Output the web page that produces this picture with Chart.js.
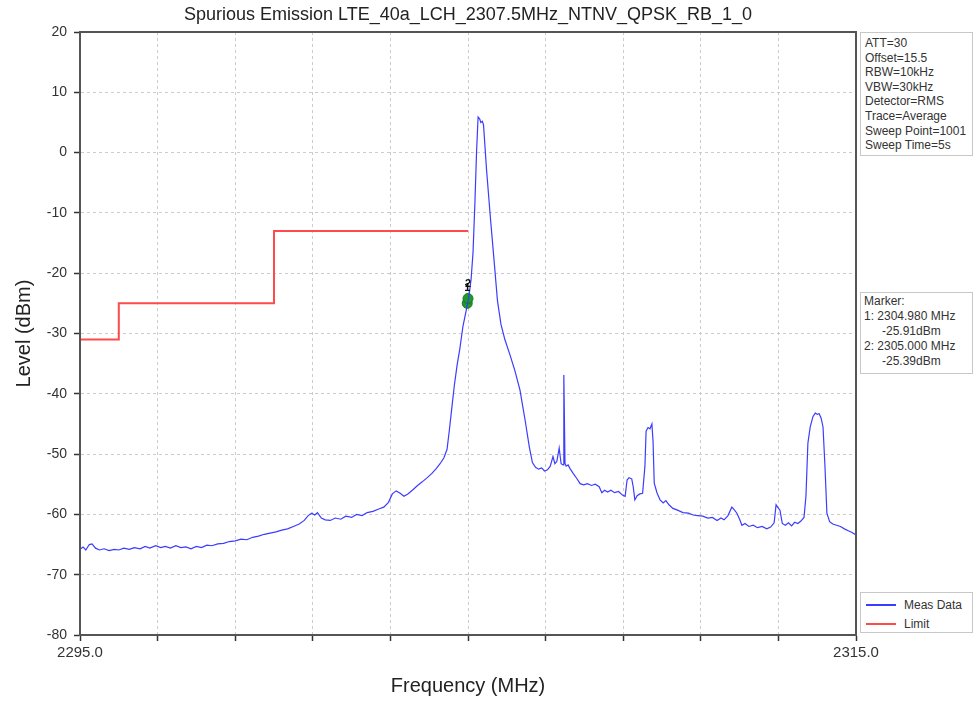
<!DOCTYPE html>
<html>
<head>
<meta charset="utf-8">
<script src="https://cdn.jsdelivr.net/npm/chart.js@4.4.1/dist/chart.umd.min.js"></script>
<style>
  body { margin: 0; background: #fff; font-family: "Liberation Sans", Arial, sans-serif; }
  #wrap { position: relative; width: 977px; height: 701px; }
  .box {
    position: absolute; left: 860px; width: 113px;
    border: 1px solid #c8c8c8; background: #fff;
    font-size: 12px; color: #333; box-sizing: border-box;
  }
  .ind { padding-left: 18px; }
  .leg { display: flex; align-items: center; height: 19px; }
  .leg i { display: inline-block; width: 30px; height: 2px; margin: 0 8px 0 5px; }
</style>
</head>
<body>
<div id="wrap">
  <canvas id="spur-chart" width="977" height="701"></canvas>

  <div class="box" style="top:32px;height:124px;padding:3px 0 0 4px;line-height:14.6px">
    ATT=30<br>Offset=15.5<br>RBW=10kHz<br>VBW=30kHz<br>Detector=RMS<br>Trace=Average<br>Sweep Point=1001<br>Sweep Time=5s
  </div>

  <div class="box" style="top:292px;height:82px;padding:1px 0 0 3px;line-height:15px">
    Marker:<br>1: 2304.980 MHz<br><span class="ind">-25.91dBm</span><br>2: 2305.000 MHz<br><span class="ind">-25.39dBm</span>
  </div>

  <div class="box" style="top:592px;height:41px;padding-top:2px">
    <div class="leg"><i style="background:#3c3cff"></i>Meas Data</div>
    <div class="leg"><i style="background:#ff4a4a"></i>Limit</div>
  </div>
</div>

<script>
const traceFreq = [
  2295.00, 2295.08, 2295.15, 2295.24, 2295.31, 2295.40, 2295.50, 2295.62, 2295.75, 2295.88,
  2296.00, 2296.13, 2296.27, 2296.40, 2296.55, 2296.68, 2296.80, 2296.95, 2297.08, 2297.20,
  2297.33, 2297.47, 2297.60, 2297.73, 2297.86, 2298.00, 2298.13, 2298.27, 2298.40, 2298.55,
  2298.70, 2298.85, 2299.00, 2299.15, 2299.30, 2299.45, 2299.60, 2299.75, 2299.90, 2300.05,
  2300.20, 2300.35, 2300.50, 2300.65, 2300.78, 2300.88, 2300.97, 2301.05, 2301.12, 2301.22,
  2301.32, 2301.45, 2301.58, 2301.72, 2301.85, 2302.00, 2302.13, 2302.27, 2302.40, 2302.55,
  2302.70, 2302.83, 2302.95, 2303.05, 2303.15, 2303.25, 2303.35, 2303.45, 2303.58, 2303.70,
  2303.82, 2303.95, 2304.07, 2304.18, 2304.28, 2304.38, 2304.46, 2304.52, 2304.58, 2304.65,
  2304.72, 2304.79, 2304.87, 2304.95, 2305.02, 2305.08, 2305.13, 2305.18, 2305.22, 2305.26,
  2305.30, 2305.33, 2305.37, 2305.40, 2305.48, 2305.58, 2305.68, 2305.76, 2305.85, 2305.95,
  2306.08, 2306.21, 2306.34, 2306.47, 2306.58, 2306.66, 2306.74, 2306.82, 2306.90, 2306.97,
  2307.05, 2307.12, 2307.19, 2307.24, 2307.29, 2307.35, 2307.40, 2307.45, 2307.47, 2307.50,
  2307.53, 2307.58, 2307.63, 2307.71, 2307.80, 2307.89, 2307.98, 2308.08, 2308.18, 2308.28,
  2308.38, 2308.45, 2308.52, 2308.60, 2308.68, 2308.78, 2308.88, 2308.98, 2309.05, 2309.10,
  2309.15, 2309.22, 2309.26, 2309.30, 2309.36, 2309.43, 2309.50, 2309.56, 2309.59, 2309.64,
  2309.69, 2309.74, 2309.77, 2309.80, 2309.87, 2309.95, 2310.03, 2310.10, 2310.18, 2310.28,
  2310.40, 2310.54, 2310.68, 2310.80, 2310.92, 2311.05, 2311.18, 2311.30, 2311.42, 2311.52,
  2311.60, 2311.70, 2311.80, 2311.87, 2311.93, 2312.00, 2312.06, 2312.14, 2312.24, 2312.35,
  2312.46, 2312.58, 2312.70, 2312.80, 2312.89, 2312.94, 2312.98, 2313.04, 2313.10, 2313.18,
  2313.26, 2313.34, 2313.42, 2313.50, 2313.58, 2313.66, 2313.71, 2313.76, 2313.82, 2313.89,
  2313.95, 2314.00, 2314.05, 2314.10, 2314.15, 2314.20, 2314.25, 2314.32, 2314.40, 2314.50,
  2314.60, 2314.70, 2314.80, 2314.90, 2315.00
];
const traceLevel = [
  -65.8, -65.4, -65.9, -65.0, -64.9, -65.6, -65.9, -65.7, -66.0, -65.8,
  -65.9, -65.6, -65.8, -65.5, -65.7, -65.3, -65.6, -65.2, -65.5, -65.3,
  -65.6, -65.2, -65.5, -65.4, -65.7, -65.3, -65.5, -65.1, -65.2, -64.9,
  -64.8, -64.5, -64.4, -64.1, -64.2, -63.8, -63.6, -63.3, -63.1, -62.9,
  -62.6, -62.4, -62.0, -61.6, -61.0, -60.2, -59.8, -60.1, -59.7, -60.6,
  -60.9, -61.0, -60.6, -60.8, -60.3, -60.5, -60.0, -60.2, -59.7, -59.5,
  -59.1, -58.8, -58.0, -56.6, -56.1, -56.5, -57.0, -56.6, -55.9, -55.2,
  -54.6, -53.9, -53.2, -52.4, -51.6, -50.6, -49.2, -46.0, -42.5, -38.5,
  -35.2, -32.5, -28.8, -26.3, -24.0, -21.0, -16.5, -8.0, 0.0, 5.9,
  5.6, 5.0, 5.2, 4.6, -3.0, -11.0, -18.5, -24.6, -28.5, -31.0,
  -33.5, -36.2, -39.4, -44.3, -48.8, -51.4, -52.2, -52.5, -52.3, -52.8,
  -52.6, -52.0, -50.4, -51.6, -51.2, -49.0, -51.6, -51.8, -36.9, -51.5,
  -52.0, -51.8, -52.4, -53.2, -54.0, -54.9, -55.1, -54.9, -55.2, -55.0,
  -55.4, -56.4, -56.0, -56.3, -56.0, -56.4, -56.2, -56.8, -57.0, -54.3,
  -53.9, -54.1, -55.5, -57.6, -56.9, -56.6, -56.5, -52.0, -46.2, -45.6,
  -45.8, -45.0, -48.0, -54.8, -56.4, -57.6, -58.1, -57.7, -58.4, -59.0,
  -59.3, -59.7, -59.8, -60.1, -60.2, -60.3, -60.6, -60.5, -61.0, -60.6,
  -60.9, -60.2, -58.8, -59.3, -59.8, -60.8, -61.8, -61.5, -62.0, -61.8,
  -62.2, -62.0, -62.4, -62.1, -61.4, -58.4, -58.8, -59.3, -61.5, -61.8,
  -61.4, -61.9, -61.3, -61.5, -61.1, -60.5, -57.0, -48.2, -45.5, -43.8,
  -43.2, -43.4, -43.3, -44.0, -45.5, -52.0, -59.8, -61.2, -61.6, -61.8,
  -62.0, -62.4, -62.7, -63.0, -63.4
];

// limit line
const limitFreq = [2295, 2296, 2296, 2300, 2300, 2305];
const limitLevel = [-31, -31, -25, -25, -13, -13];

// markers
const markerFreq = [2304.98, 2305.0];
const markerLevel = [-25.0, -24.2];
const markerNames = ['1', '2'];

// axes
const freqMin = 2295, freqMax = 2315, freqStep = 2;
const levelMin = -80, levelMax = 20, levelStep = 10;
const edgeTickLabels = ['2295.0', '2315.0'];

const toXY = (xs, ys) => xs.map((x, i) => ({ x: x, y: ys[i] }));

// frame round the plot + marker numbers
const framePlugin = {
  id: 'frame',
  afterDatasetsDraw(chart) {
    const ctx = chart.ctx;
    const meta = chart.getDatasetMeta(2);
    ctx.save();
    ctx.font = 'bold 11px "Liberation Sans", Arial, sans-serif';
    ctx.fillStyle = '#111';
    ctx.textAlign = 'center';
    ctx.textBaseline = 'middle';
    meta.data.forEach((pt, i) => {
      ctx.fillText(markerNames[i], pt.x, pt.y - 15);
    });
    ctx.restore();
  },
  afterDraw(chart) {
    const { ctx, chartArea: a } = chart;
    ctx.save();
    ctx.strokeStyle = '#555';
    ctx.lineWidth = 2;
    ctx.strokeRect(a.left, a.top, a.right - a.left, a.bottom - a.top);
    ctx.restore();
  }
};

const ctx = document.getElementById('spur-chart').getContext('2d');

new Chart(ctx, {
  type: 'line',
  data: {
    datasets: [
      {
        label: 'Meas Data',
        data: toXY(traceFreq, traceLevel),
        borderColor: '#3c3cff',
        borderWidth: 1.2,
        pointRadius: 0,
        tension: 0,
      },
      {
        label: 'Limit',
        data: toXY(limitFreq, limitLevel),
        borderColor: '#ff4a4a',
        borderWidth: 2,
        pointRadius: 0,
        tension: 0,
      },
      {
        label: 'Marker',
        data: toXY(markerFreq, markerLevel),
        showLine: false,
        pointRadius: 5,
        pointBackgroundColor: '#1f9a2a',
        pointBorderColor: '#17761f',
        pointBorderWidth: 1,
      },
    ],
  },
  options: {
    responsive: false,
    animation: false,
    devicePixelRatio: 1,
    layout: { padding: { left: 0, right: 121, top: 0, bottom: 0 } },
    plugins: {
      legend: { display: false },
      tooltip: { enabled: false },
      title: {
        display: true,
        fullSize: false,
        text: 'Spurious Emission LTE_40a_LCH_2307.5MHz_NTNV_QPSK_RB_1_0',
        color: '#222',
        font: { size: 18, weight: 'normal', family: '"Liberation Sans", Arial, sans-serif' },
        padding: { top: 4, bottom: 6.4 },
      },
    },
    scales: {
      x: {
        type: 'linear',
        min: freqMin,
        max: freqMax,
        afterFit: (s) => { s.height = 66; },
        ticks: {
          stepSize: freqStep,
          autoSkip: false,
          maxRotation: 0,
          padding: 3,
          color: '#333',
          font: { size: 15, family: '"Liberation Sans", Arial, sans-serif' },
          callback: (v) => (v === freqMin ? edgeTickLabels[0] : v === freqMax ? edgeTickLabels[1] : ''),
        },
        grid: { color: '#cccccc', tickColor: '#333', tickLength: 6, tickWidth: 1.5 },
        border: { color: '#444', width: 2, dash: [3, 3] },
        title: {
          display: true,
          text: 'Frequency (MHz)',
          color: '#222',
          font: { size: 20, family: '"Liberation Sans", Arial, sans-serif' },
          padding: { top: 0, bottom: 3 },
        },
      },
      y: {
        type: 'linear',
        min: levelMin,
        max: levelMax,
        afterFit: (s) => { s.width = 80; },
        ticks: {
          stepSize: levelStep,
          padding: 7,
          color: '#333',
          font: { size: 14, family: '"Liberation Sans", Arial, sans-serif' },
        },
        grid: { color: '#cccccc', tickColor: '#333', tickLength: 6, tickWidth: 1.5 },
        border: { color: '#444', width: 2, dash: [3, 3] },
        title: {
          display: true,
          text: 'Level (dBm)',
          color: '#222',
          font: { size: 20, family: '"Liberation Sans", Arial, sans-serif' },
          padding: { top: 12, bottom: 0 },
        },
      },
    },
  },
  plugins: [framePlugin],
});
</script>
</body>
</html>
